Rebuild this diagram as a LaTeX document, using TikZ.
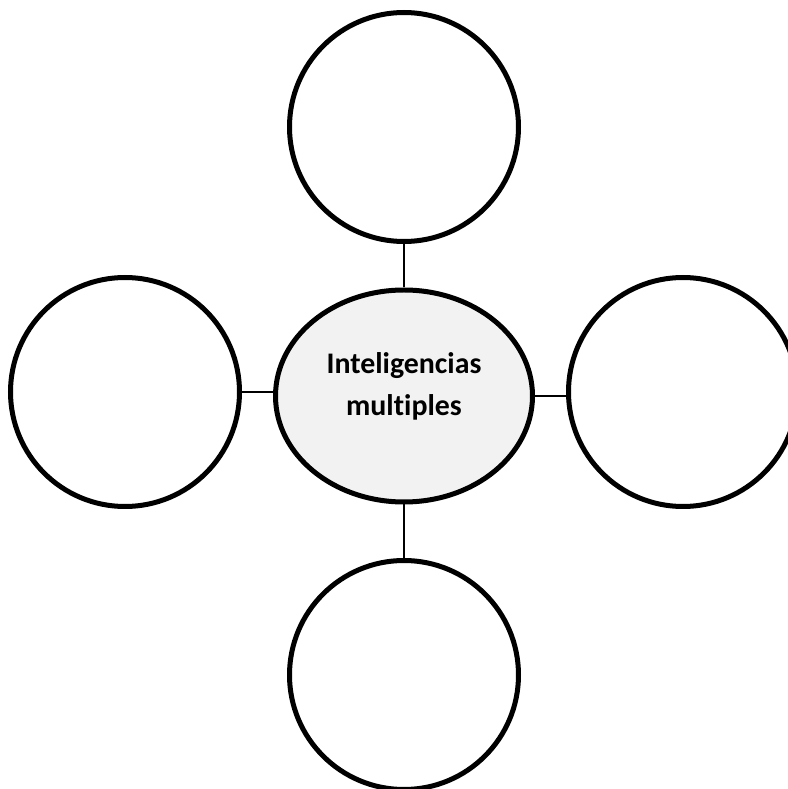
\documentclass[tikz,border=0pt]{standalone}
\usepackage{fontspec}
\setmainfont{Carlito}[Ligatures=NoCommon]
\usepackage{tikz}
\usetikzlibrary{shapes}
\tikzset{>=latex}
\tikzset{
    idea/.style={draw, circle, line width=0.1cm, minimum size=4.58cm, inner sep=0pt},
    hub/.style={draw, ellipse, line width=0.1cm, fill=gray!10, minimum width=5.14cm, minimum height=4.24cm, inner sep=0pt, align=center, font=\fontsize{17}{24}\selectfont\bfseries},
    link/.style={line width=0.04cm}
}

\begin{document}
\begin{tikzpicture}
    \useasboundingbox (0,0) rectangle (15.76,15.78);
    \node [hub] (mid) at (8.08,7.86) {Inteligencias\\multiples\\[-10pt]};
    \node [idea] (top) at (8.08,13.24) {};
    \node [idea] (left) at (2.5,7.94) {};
    \node [idea] (right) at (13.66,7.94) {};
    \node [idea] (bottom) at (8.08,2.28) {};
    \draw [link] (top.south) -- (mid.north);
    \draw [link] (left.east) -- (left.east -| mid.west);
    \draw [link] (mid.east) -- (mid.east -| right.west);
    \draw [link] (mid.south) -- (bottom.north);
\end{tikzpicture}
\end{document}
